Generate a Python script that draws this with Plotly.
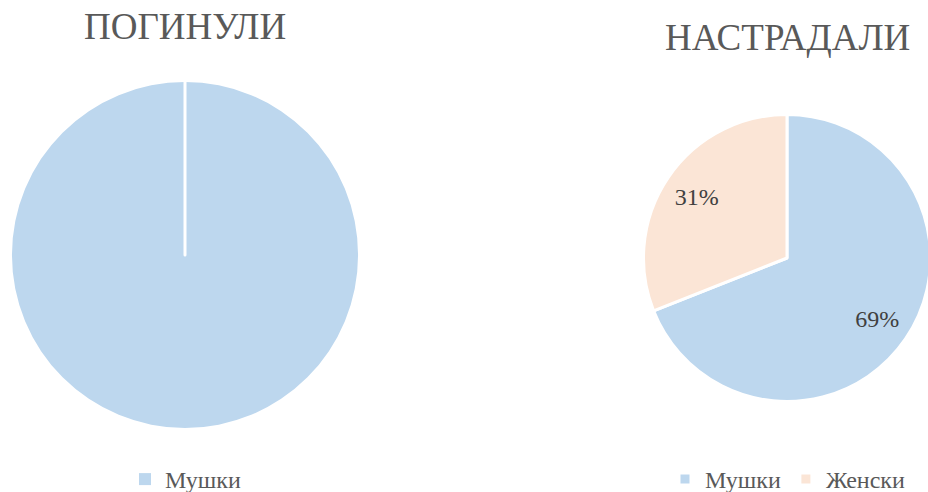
import plotly.graph_objects as go

labels = ["Мушки", "Женски"]
killed_values = [100, 0]
injured_values = [69, 31]
titles = ["ПОГИНУЛИ", "НАСТРАДАЛИ"]
colors = ["#BDD7EE", "#FBE5D6"]

# layout is slightly larger than the 928x492 window: the right pie and the legend
# padding run past the edges, as in the reference
W, H = 940, 502
FONT = "Liberation Serif"


def dom(cx, cy, half):
    return dict(x=[(cx - half) / W, min(1.0, (cx + half) / W)], y=[1 - (cy + half) / H, 1 - (cy - half) / H])


left_dom = dom(185, 255, 173)
right_dom = dom(787, 258, 143.5)

killed_shown = [(l, v, c) for l, v, c in zip(labels, killed_values, colors) if v > 0]

fig = go.Figure()
# left pie (only non-zero categories appear in its legend)
fig.add_trace(go.Pie(
    labels=[k[0] for k in killed_shown], values=[k[1] for k in killed_shown],
    sort=False, direction="clockwise", rotation=0,
    marker=dict(colors=[k[2] for k in killed_shown], line=dict(color="white", width=0)),
    textinfo="none", hoverinfo="label+percent",
    domain=left_dom, legend="legend", legendgroup="killed",
))
# left pie slice borders (zero-size slice draws the radial border, as in the source)
fig.add_trace(go.Pie(
    labels=labels, values=killed_values, sort=False, direction="clockwise", rotation=0,
    marker=dict(colors=["rgba(0,0,0,0)"] * 2, line=dict(color="white", width=[0, 3])),
    textinfo="none", hoverinfo="skip", showlegend=False,
    domain=left_dom,
))
# right pie
fig.add_trace(go.Pie(
    labels=labels, values=injured_values, sort=False, direction="clockwise", rotation=0,
    marker=dict(colors=colors, line=dict(color="white", width=3)),
    textinfo="none", hoverinfo="label+percent",
    domain=right_dom, legend="legend2", legendgroup="injured",
))
# right pie percentage labels (transparent ring to place labels near the rim)
fig.add_trace(go.Pie(
    labels=labels, values=injured_values, sort=False, direction="clockwise", rotation=0,
    hole=0.52,
    marker=dict(colors=["rgba(0,0,0,0)"] * 2, line=dict(width=0)),
    textinfo="percent", texttemplate="%{percent:.0%}", textposition="inside",
    textfont=dict(family=FONT, size=24, color="#404040"),
    insidetextorientation="horizontal", hoverinfo="skip", showlegend=False,
    domain=right_dom,
))

fig.add_annotation(text=titles[0], x=185 / W, y=1 - 27 / H, xref="paper", yref="paper",
                   xanchor="center", yanchor="middle", showarrow=False,
                   font=dict(family=FONT, size=37, color="#595959"))
fig.add_annotation(text=titles[1], x=787 / W, y=1 - 37 / H, xref="paper", yref="paper",
                   xanchor="center", yanchor="middle", showarrow=False,
                   font=dict(family=FONT, size=37, color="#595959"))

legend_font = dict(family=FONT, size=24, color="#595959")
fig.update_layout(
    width=W, height=H,
    margin=dict(l=0, r=0, t=0, b=0, autoexpand=False),
    paper_bgcolor="white", plot_bgcolor="white",
    legend=dict(orientation="h", x=125 / W, xanchor="left", y=0, yanchor="bottom",
                font=legend_font, itemwidth=30, traceorder="normal"),
    legend2=dict(orientation="h", x=665 / W, xanchor="left", y=0, yanchor="bottom",
                 font=legend_font, itemwidth=30, traceorder="normal"),
)

fig.write_html(
    "out.html",
    config={"displayModeBar": False},
    post_script="document.body.style.margin='0';document.body.style.overflow='hidden';"
                "document.documentElement.style.overflow='hidden';",
)
